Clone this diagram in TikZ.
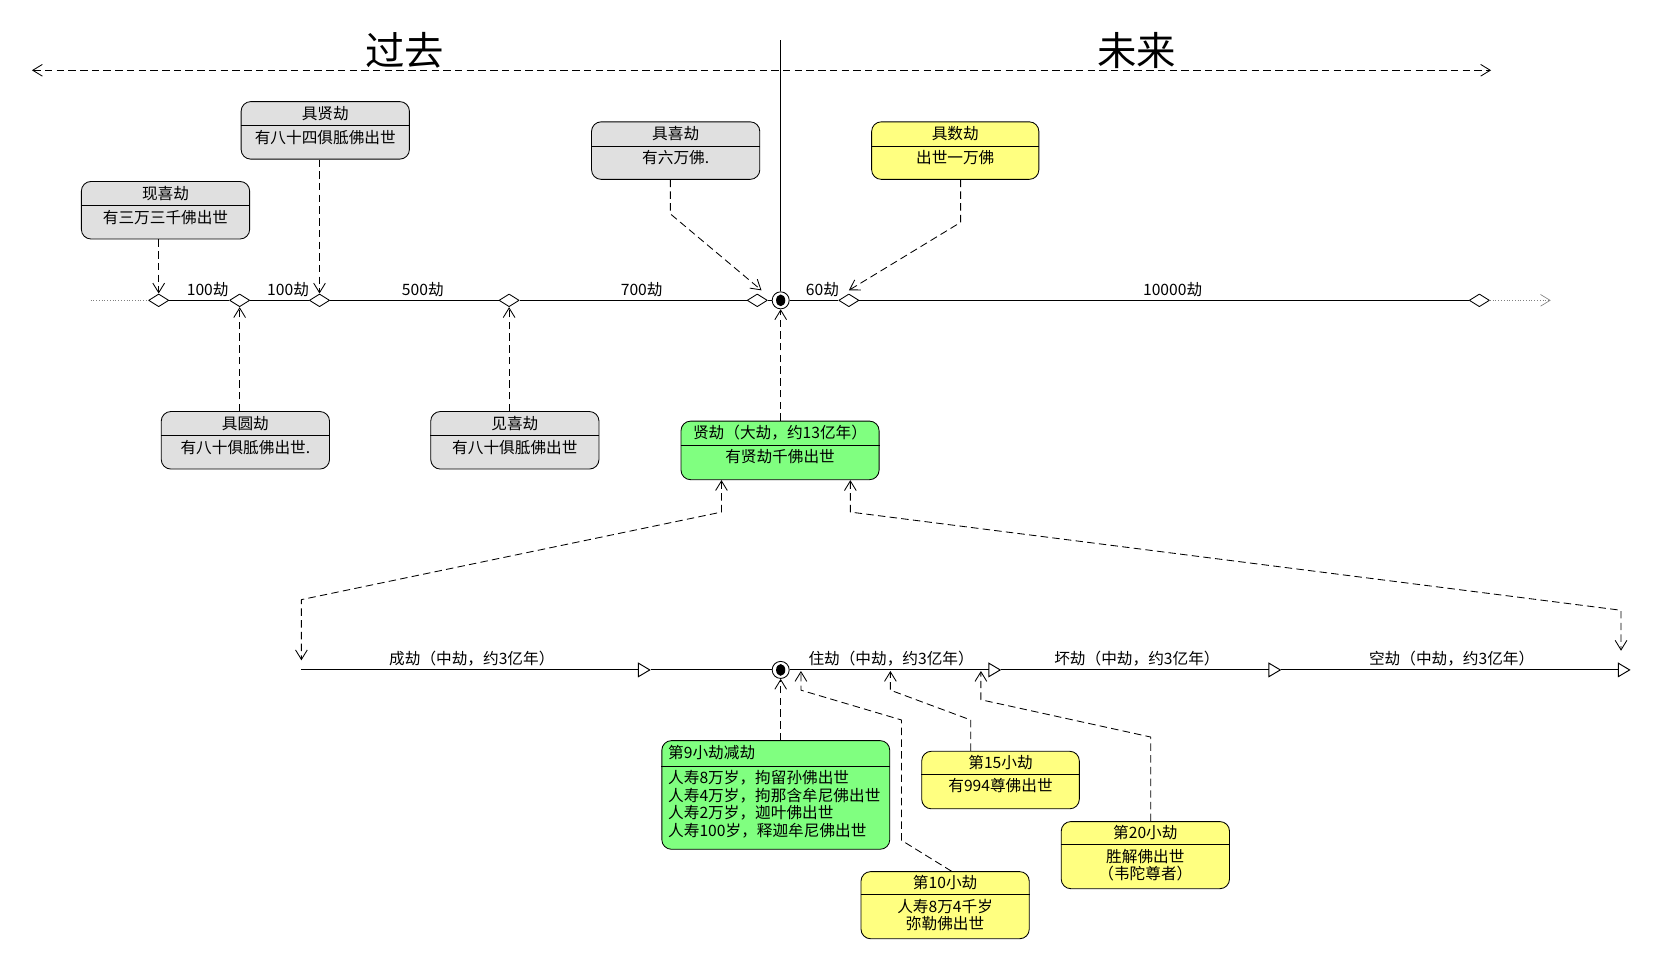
\documentclass[tikz,border=0pt]{standalone}
\usepackage{fontspec}
\setmainfont{Noto Sans CJK SC}
\usetikzlibrary{arrows.meta,calc,shapes.geometric}
\definecolor{kgray}{RGB}{224,224,224}
\definecolor{kyellow}{RGB}{255,255,128}
\definecolor{kgreen}{RGB}{128,255,128}
\newcommand{\kalpabox}[9][align=center]{%
  \node[kbox, fill=#3, minimum width=#5pt, minimum height=#6pt] (#2) at (#4) {};
  \draw ($(#2.north west)+(0,#7)$) -- ($(#2.north east)+(0,#7)$);
  \node[ktext, #1] (#2-h) at ($(#2.north)+(0,#7/2)$) {#8};
  \node[ktext, anchor=north, #1] (#2-b) at ($(#2.north)+(0,#7+4)$) {#9};
}
\newcommand{\startstate}[2]{%
  \node[kstart] (#1) at (#2) {};
  \fill (#1.center) ellipse (4.3pt and 5.5pt);
}

\begin{document}
\begin{tikzpicture}[x=1pt, y=-1pt, line join=round, >={Straight Barb[length=9pt,width=11pt]}]
\tikzset{kbox/.style={draw, rounded corners=9pt, anchor=north west, inner sep=0, line width=0.8pt},
  ktext/.style={font=\fontsize{14.7}{16.5}\selectfont, inner sep=0},
  kdiamond/.style={diamond, draw, fill=white, inner sep=0, minimum width=19pt, minimum height=12pt, line width=0.8pt},
  kstart/.style={circle, draw, fill=white, inner sep=0, minimum size=16pt, line width=0.8pt},
  tline/.style={line width=0.9pt},
  faint/.style={dotted, gray, line width=0.6pt},
  dep/.style={->, line width=0.8pt, dash pattern=on 7pt off 4pt},
  flow/.style={line width=0.9pt, -{Triangle[open, length=12pt, width=14pt]}},
  seglabel/.style={ktext, above=3pt, xshift=8pt},
  phaselabel/.style={ktext, above=3pt, xshift=-4pt},
  bigtext/.style={font=\fontsize{37}{42}\selectfont, inner sep=0}}
\useasboundingbox (0,0) rectangle (1568,901);

% past / future
\coordinate (pastEnd) at (30,66);
\coordinate (futureEnd) at (1400,66);
\coordinate (nowTop) at (733,38);
\draw[dep, <->] (pastEnd) -- (futureEnd);
\node[bigtext] (past) at (380,47) {过去};
\node[bigtext] (future) at (1067,47) {未来};

% great kalpas
\coordinate (tlStart) at (85,282);
\node[kdiamond] (d1) at (149,282) {};
\node[kdiamond] (d2) at (225,282) {};
\node[kdiamond] (d3) at (300,282) {};
\node[kdiamond] (d4) at (478,282) {};
\node[kdiamond] (d5) at (711,282) {};
\startstate{c1}{733,282}
\node[kdiamond] (d6) at (797,282) {};
\node[kdiamond] (d7) at (1389,282) {};
\coordinate (tlEnd) at (1456,282);

\draw[tline] (nowTop) -- (c1);
\draw[faint] (tlStart) -- (d1);
\draw[tline] (d1) -- node[seglabel] (l1) {100劫} (d2);
\draw[tline] (d2) -- node[seglabel] (l2) {100劫} (d3);
\draw[tline] (d3) -- node[seglabel] (l3) {500劫} (d4);
\draw[tline] (d4) -- node[seglabel] (l4) {700劫} (d5);
\draw[tline] (d5) -- (c1);
\draw[tline] (c1) -- node[seglabel] (l5) {60劫} (d6);
\draw[tline] (d6) -- node[seglabel] (l6) {10000劫} (d7);
\draw[faint, ->] (d7) -- (tlEnd);

\kalpabox{xianxi}{kgray}{76,170}{158}{54}{23}{现喜劫}{有三万三千佛出世}
\kalpabox{juxian}{kgray}{226,95}{158}{54}{23}{具贤劫}{有八十四俱胝佛出世}
\kalpabox{juxi}{kgray}{555,114}{158}{54}{23}{具喜劫}{有六万佛.}
\kalpabox{jushu}{kyellow}{818,114}{157}{54}{23}{具数劫}{出世一万佛}
\kalpabox{juyuan}{kgray}{151,386}{158}{54}{23}{具圆劫}{有八十俱胝佛出世.}
\kalpabox{jianxi}{kgray}{404,386}{158}{54}{23}{见喜劫}{有八十俱胝佛出世}
\kalpabox{xianjie}{kgreen}{639,395}{186}{55}{23}{贤劫（大劫，约13亿年）}{有贤劫千佛出世}

\draw[dep] (xianxi.south -| d1) -- (d1.north);
\draw[dep] (juxian.south -| d3) -- (d3.north);
\draw[dep] ([xshift=-5pt]juxi.south) -- ++(0,32) -- ([xshift=4pt,yshift=3pt]d5.north);
\draw[dep] ([xshift=5pt]jushu.south) -- ++(0,40) -- ([yshift=3pt]d6.north);
\draw[dep] (juyuan.north -| d2) -- (d2.south);
\draw[dep] (jianxi.north -| d4) -- (d4.south);
\draw[dep] (xianjie.north -| c1) -- (c1.south);

% middle kalpas
\coordinate (chengS) at (283,629);
\coordinate (t1) at (611,629);
\startstate{c2}{733,629}
\coordinate (t2) at (940,629);
\coordinate (t3) at (1203,629);
\coordinate (t4) at (1531,629);

\draw[flow] (chengS) -- node[phaselabel] (p1) {成劫（中劫，约3亿年）} (t1);
\draw[tline] (t1) -- (c2);
\draw[flow] (c2) -- node[phaselabel] (p2) {住劫（中劫，约3亿年）} (t2);
\draw[flow] (t2) -- node[phaselabel] (p3) {坏劫（中劫，约3亿年）} (t3);
\draw[flow] (t3) -- node[phaselabel] (p4) {空劫（中劫，约3亿年）} (t4);

\draw[dep, <->] ([xshift=-55pt]xianjie.south) -- ++(0,30) -- ($(chengS)+(0,-66)$) -- ($(chengS)+(0,-9)$);
\draw[dep, <->] ([xshift=66pt]xianjie.south) -- ++(0,30) -- ($(t4)+(-9,-56)$) -- ($(t4)+(-9,-18)$);

% small kalpas
\kalpabox[text width=202pt, align=left]{xiaoNine}{kgreen}{621,695}{214}{102}{24}{第9小劫减劫}{人寿8万岁，拘留孙佛出世\\人寿4万岁，拘那含牟尼佛出世\\人寿2万岁，迦叶佛出世\\人寿100岁，释迦牟尼佛出世}
\kalpabox{xiaoFifteen}{kyellow}{865,705}{148}{54}{22}{第15小劫}{有994尊佛出世}
\kalpabox{xiaoTen}{kyellow}{808,818}{158}{63}{22}{第10小劫}{人寿8万4千岁\\弥勒佛出世}
\kalpabox{xiaoTwenty}{kyellow}{996,771}{158}{63}{22}{第20小劫}{胜解佛出世\\（韦陀尊者）}

\coordinate (z10) at (752,630);
\coordinate (z15) at (836,630);
\coordinate (z20) at (921,630);

\draw[dep] (xiaoNine.north -| c2) -- (c2.south);
\draw[dep] ([xshift=6pt]xiaoTen.north) -- ++(-47,-29) -- ++(0,-113) -- ($(z10)+(0,18)$) -- (z10);
\draw[dep] ([xshift=-28pt]xiaoFifteen.north) -- ++(0,-29) -- ($(z15)+(0,18)$) -- (z15);
\draw[dep] ([xshift=5pt]xiaoTwenty.north) -- ++(0,-79) -- ($(z20)+(0,27)$) -- (z20);
\end{tikzpicture}
\end{document}
